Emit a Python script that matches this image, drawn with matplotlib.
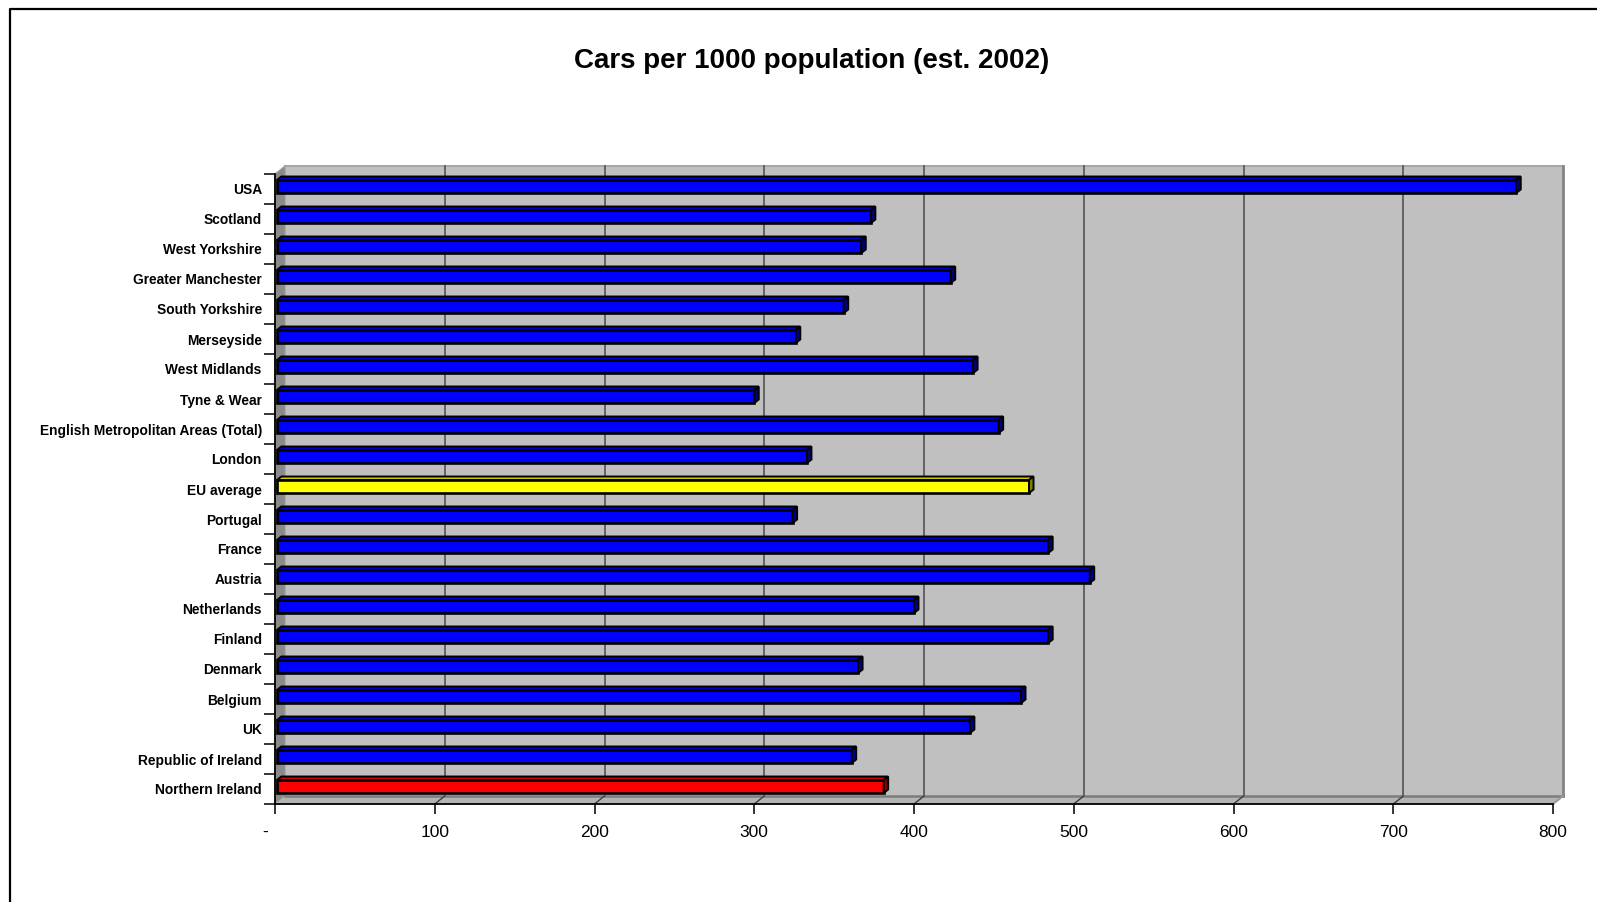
import matplotlib
matplotlib.use("Agg")
import matplotlib.pyplot as plt
from matplotlib.patches import Polygon, Rectangle
from matplotlib.lines import Line2D
from matplotlib.transforms import ScaledTranslation

plt.rcParams['font.family'] = ['Liberation Sans', 'DejaVu Sans']

# ---- data -------------------------------------------------------------
categories = [
    "USA", "Scotland", "West Yorkshire", "Greater Manchester", "South Yorkshire",
    "Merseyside", "West Midlands", "Tyne & Wear", "English Metropolitan Areas (Total)",
    "London", "EU average", "Portugal", "France", "Austria", "Netherlands", "Finland",
    "Denmark", "Belgium", "UK", "Republic of Ireland", "Northern Ireland",
]
cars_per_1000 = [
    777, 373, 367, 423, 356,
    326, 437, 300, 453,
    333, 472, 324, 484, 510, 400, 484,
    365, 467, 435, 361, 381,
]
highlight = {"EU average": "yellow", "Northern Ireland": "red"}

x_ticks = [0, 100, 200, 300, 400, 500, 600, 700, 800]
x_tick_labels = ["-", "100", "200", "300", "400", "500", "600", "700", "800"]
title = "Cars per 1000 population (est. 2002)"

# ---- styling ----------------------------------------------------------
face_colors = {"blue": "#0000FF", "yellow": "#FFFF00", "red": "#FF0000"}
side_colors = {"blue": "#000080", "yellow": "#808000", "red": "#800000"}
top_colors = {"blue": "#0000C8", "yellow": "#CCCC00", "red": "#CC0000"}

W, H = 1597, 902
fig = plt.figure(figsize=(W / 100, H / 100), dpi=100)
fig.patch.set_facecolor("white")

# front plane of the plot box in pixels
left_px, right_px, top_px, bottom_px = 275, 1553, 174, 804
ax = fig.add_axes([left_px / W, (H - bottom_px) / H,
                   (right_px - left_px) / W, (bottom_px - top_px) / H])
n = len(categories)
xmax = 800
ax.set_xlim(0, xmax)
ax.set_ylim(n - 0.5, -0.5)
ax.patch.set_visible(False)

px_per_x = (right_px - left_px) / xmax
px_per_y = (bottom_px - top_px) / n

# depth of the walls and of the bars (pixels -> data units)
WX, WY = 10 / px_per_x, 8 / px_per_y
BX, BY = 4.5 / px_per_x, 3.5 / px_per_y

y_top, y_bot = -0.5, n - 0.5

# back wall
ax.add_patch(Rectangle((WX, y_top - WY), xmax, n, facecolor="#C0C0C0",
                       edgecolor="none", zorder=0.2, clip_on=False))
ax.plot([WX, WX + xmax], [y_top - WY, y_top - WY], color="#A8A8A8", lw=1.5,
        zorder=0.3, clip_on=False)
ax.plot([WX + xmax, WX + xmax], [y_top - WY, y_bot - WY], color="#848484", lw=2,
        zorder=0.3, clip_on=False)
# gridlines on back wall
for v in x_ticks[1:-1]:
    ax.plot([v + WX, v + WX], [y_top - WY, y_bot - WY], color="#5C5C5C", lw=1.3,
            zorder=0.4, clip_on=False)

# left side wall
ax.add_patch(Polygon([(0, y_top), (WX, y_top - WY), (WX, y_bot - WY), (0, y_bot)],
                     closed=True, facecolor="#8A8A8A", edgecolor="#9A9A9A", lw=0.8,
                     zorder=0.5, clip_on=False))
# floor
ax.add_patch(Polygon([(0, y_bot), (xmax, y_bot), (xmax + WX, y_bot - WY), (WX, y_bot - WY)],
                     closed=True, facecolor="#B4B4B4", edgecolor="none",
                     zorder=0.5, clip_on=False))
ax.plot([WX, xmax + WX], [y_bot - WY, y_bot - WY], color="#7C7C7C", lw=1.8,
        zorder=0.6, clip_on=False)
ax.plot([xmax, xmax + WX], [y_bot, y_bot - WY], color="#9A9A9A", lw=1.5,
        zorder=0.6, clip_on=False)
for v in x_ticks[1:-1]:
    ax.plot([v, v + WX], [y_bot, y_bot - WY], color="#3C3C3C", lw=1.0,
            zorder=0.7, clip_on=False)

# ---- bars -------------------------------------------------------------
bar_h = 13 / px_per_y
shift = 2.5 / px_per_y
bar_left = 1.2
for i, (cat, val) in enumerate(zip(categories, cars_per_1000)):
    key = highlight.get(cat, "blue")
    yc = i - shift
    top = yc - bar_h / 2
    bot = yc + bar_h / 2
    ax.barh(yc, val - bar_left, height=bar_h, left=bar_left,
            color=face_colors[key], edgecolor="black", lw=1.9, zorder=3)
    ax.add_patch(Polygon([(bar_left, top), (val, top), (val + BX, top - BY),
                          (bar_left + BX, top - BY)], closed=True,
                         facecolor=top_colors[key], edgecolor="black", lw=1.4,
                         zorder=3, clip_on=False))
    ax.add_patch(Polygon([(val, top), (val + BX, top - BY), (val + BX, bot - BY),
                          (val, bot)], closed=True,
                         facecolor=side_colors[key], edgecolor="black", lw=1.4,
                         zorder=3, clip_on=False))

# ---- axes -------------------------------------------------------------
for s in ("top", "right"):
    ax.spines[s].set_visible(False)
for s in ("left", "bottom"):
    ax.spines[s].set_color("black")
    ax.spines[s].set_linewidth(1.3)
    ax.spines[s].set_zorder(2)

ax.set_yticks(range(n))
ax.set_yticklabels(categories, fontsize=9.9, fontweight="bold")
ax.set_yticks([i - 0.5 for i in range(n + 1)], minor=True)
ax.tick_params(axis="y", which="major", length=0, pad=9.5)
ax.tick_params(axis="y", which="minor", length=8, width=1.1, color="black")

ax.set_xticks(x_ticks)
ax.set_xticklabels(x_tick_labels, fontsize=12.5)
ax.tick_params(axis="x", which="major", length=7.5, width=1.1, color="black", pad=7.5)
zero_label = ax.get_xticklabels()[0]
zero_label.set_transform(zero_label.get_transform()
                         + ScaledTranslation(-0.1, 0, fig.dpi_scale_trans))

fig.text(812 / W, 1 - 61 / H, title, ha="center", va="center",
         fontsize=20, fontweight="bold")

# outer frame (left and top edges)
fig.add_artist(Line2D([10 / W, 10 / W, 1.0], [0.0, 1 - 9 / H, 1 - 9 / H],
                      transform=fig.transFigure, color="black", lw=1.6))

fig.savefig("out.png", dpi=100, facecolor="white")
